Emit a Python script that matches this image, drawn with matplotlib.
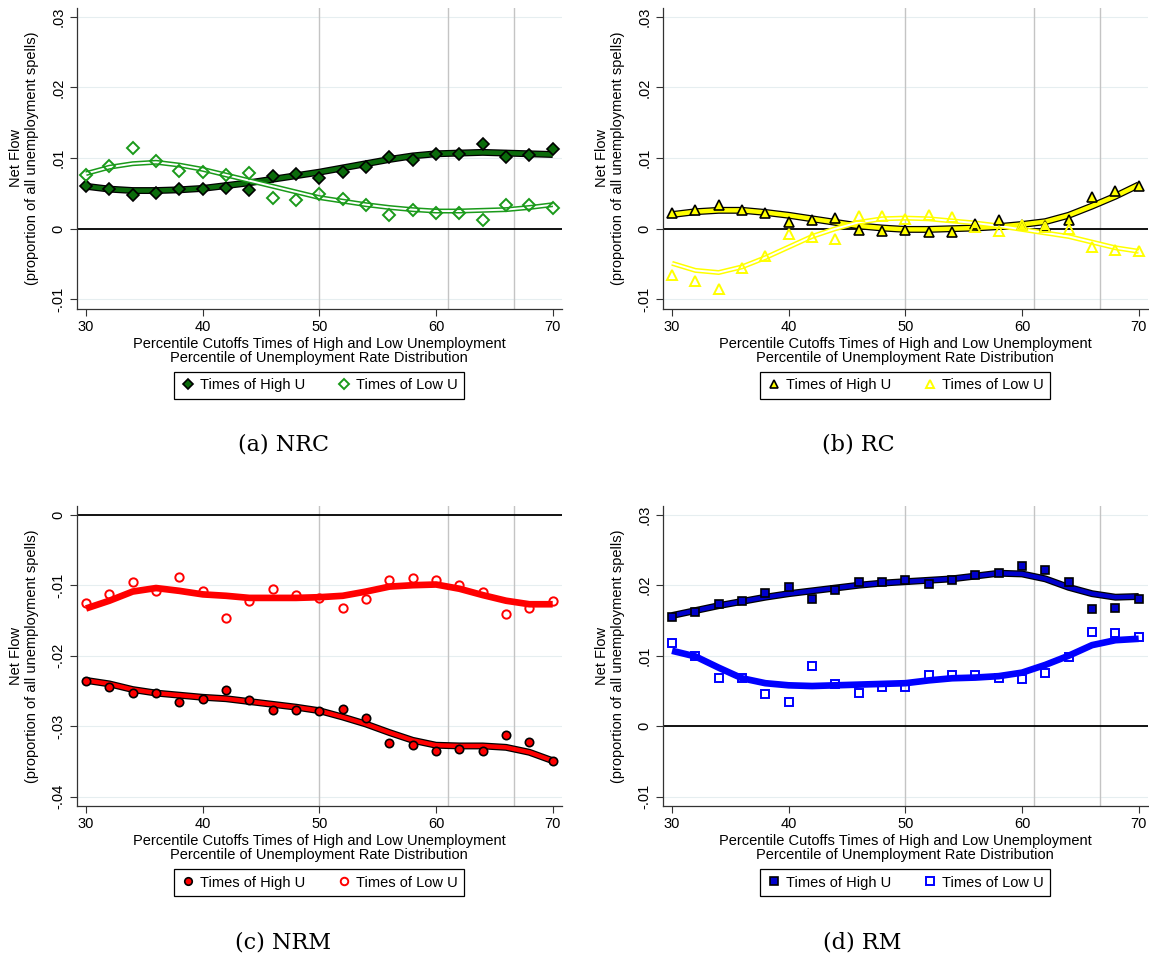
import matplotlib
matplotlib.use("Agg")
from matplotlib import pyplot as plt
import matplotlib.patheffects as pe
import numpy as np

plt.rcParams['font.family'] = ['Liberation Sans', 'DejaVu Sans']

cutoffs = np.arange(30, 71, 2)
vlines = [50, 61, 66.7]

# (a) NRC
nrc_high = [0.0060, 0.0056, 0.0047, 0.0051, 0.0056, 0.0056, 0.0057, 0.0055, 0.0075, 0.0078, 0.0072,
            0.0080, 0.0087, 0.0102, 0.0097, 0.0105, 0.0106, 0.0120, 0.0102, 0.0104, 0.0113]
nrc_low = [0.0076, 0.0089, 0.0114, 0.0096, 0.0082, 0.0080, 0.0076, 0.0079, 0.0043, 0.0041, 0.0049,
           0.0042, 0.0033, 0.0020, 0.0026, 0.0022, 0.0022, 0.0013, 0.0034, 0.0033, 0.0030]
nrc_high_fit = [0.0060, 0.0056, 0.0054, 0.0054, 0.0055, 0.0057, 0.0061, 0.0065, 0.0070, 0.0075, 0.0080,
                0.0086, 0.0092, 0.0098, 0.0103, 0.0106, 0.0107, 0.0108, 0.0107, 0.0106, 0.0105]
nrc_low_fit = [0.0078, 0.0087, 0.0092, 0.0094, 0.0090, 0.0084, 0.0076, 0.0068, 0.0060, 0.0052, 0.0044,
               0.0039, 0.0034, 0.0030, 0.0027, 0.0025, 0.0025, 0.0026, 0.0027, 0.0030, 0.0034]

# (b) RC
rc_high = [0.0022, 0.0027, 0.0033, 0.0027, 0.0022, 0.0010, 0.0013, 0.0015, -0.0002, -0.0003, -0.0002,
           -0.0005, -0.0004, 0.0006, 0.0012, 0.0005, 0.0004, 0.0012, 0.0045, 0.0053, 0.0060]
rc_low = [-0.0066, -0.0074, -0.0085, -0.0055, -0.0039, -0.0007, -0.0012, -0.0015, 0.0018, 0.0018, 0.0014,
          0.0019, 0.0016, 0.0002, -0.0003, 0.0005, 0.0003, -0.0001, -0.0026, -0.0030, -0.0031]
rc_high_fit = [0.0020, 0.0024, 0.0026, 0.0026, 0.0023, 0.0019, 0.0014, 0.0009, 0.0004, 0.0001, -0.0001,
               -0.0001, 0.0000, 0.0001, 0.0003, 0.0006, 0.0010, 0.0019, 0.0032, 0.0046, 0.0062]
rc_low_fit = [-0.0049, -0.0059, -0.0062, -0.0054, -0.0041, -0.0026, -0.0011, 0.0000, 0.0009, 0.0014, 0.0015,
              0.0014, 0.0011, 0.0008, 0.0004, -0.0001, -0.0006, -0.0011, -0.0019, -0.0027, -0.0032]

# (c) NRM
nrm_high = [-0.0236, -0.0244, -0.0253, -0.0253, -0.0266, -0.0261, -0.0249, -0.0263, -0.0277, -0.0277, -0.0278,
            -0.0275, -0.0289, -0.0324, -0.0327, -0.0335, -0.0332, -0.0335, -0.0312, -0.0323, -0.0350]
nrm_low = [-0.0125, -0.0112, -0.0095, -0.0108, -0.0088, -0.0108, -0.0147, -0.0122, -0.0106, -0.0114, -0.0118,
           -0.0132, -0.0120, -0.0092, -0.0090, -0.0093, -0.0099, -0.0109, -0.0141, -0.0133, -0.0123]
nrm_high_fit = [-0.0235, -0.0240, -0.0248, -0.0253, -0.0256, -0.0259, -0.0261, -0.0265, -0.0269, -0.0273, -0.0278,
                -0.0287, -0.0297, -0.0309, -0.0320, -0.0327, -0.0328, -0.0328, -0.0330, -0.0337, -0.0349]
nrm_low_fit = [-0.0133, -0.0122, -0.0109, -0.0104, -0.0108, -0.0113, -0.0115, -0.0118, -0.0118, -0.0118, -0.0117,
               -0.0115, -0.0109, -0.0102, -0.0100, -0.0099, -0.0105, -0.0114, -0.0122, -0.0127, -0.0127]

# (d) RM
rm_high = [0.0155, 0.0162, 0.0174, 0.0177, 0.0189, 0.0197, 0.0180, 0.0193, 0.0205, 0.0204, 0.0207,
           0.0202, 0.0207, 0.0215, 0.0218, 0.0227, 0.0221, 0.0205, 0.0166, 0.0168, 0.0180]
rm_low = [0.0118, 0.0099, 0.0068, 0.0068, 0.0046, 0.0035, 0.0085, 0.0060, 0.0047, 0.0056, 0.0056,
          0.0073, 0.0073, 0.0072, 0.0069, 0.0067, 0.0076, 0.0098, 0.0134, 0.0132, 0.0126]
rm_high_fit = [0.0157, 0.0164, 0.0171, 0.0177, 0.0183, 0.0188, 0.0192, 0.0196, 0.0200, 0.0203, 0.0205,
               0.0207, 0.0209, 0.0213, 0.0217, 0.0216, 0.0209, 0.0197, 0.0188, 0.0183, 0.0184]
rm_low_fit = [0.0107, 0.0099, 0.0083, 0.0068, 0.0061, 0.0058, 0.0057, 0.0058, 0.0059, 0.0060, 0.0061,
              0.0065, 0.0068, 0.0069, 0.0071, 0.0076, 0.0087, 0.0100, 0.0115, 0.0122, 0.0124]


def fmt_tick(v):
    if abs(v) < 1e-9:
        return "0"
    return f"{v:.2f}".replace("0.", ".")


def panel(ax, high, low, high_fit, low_fit, color, dark, marker, low_style, yticks, ylim):
    for v in vlines:
        ax.axvline(v, color='#c4c4c4', lw=1.0, zorder=1)
    for t in yticks:
        ax.axhline(t, color='#e6eef0', lw=0.8, zorder=0)
    ax.axhline(0, color='black', lw=1.3, zorder=2)

    # fitted lines
    ax.plot(cutoffs, high_fit, color=dark, lw=3.2, solid_capstyle='butt', zorder=3,
            path_effects=[pe.Stroke(linewidth=5.0, foreground='black'), pe.Normal()])
    if low_style == 'double':
        ax.plot(cutoffs, low_fit, color='white', lw=1.4, solid_capstyle='butt', zorder=3,
                path_effects=[pe.Stroke(linewidth=3.6, foreground=color), pe.Normal()])
    else:
        ax.plot(cutoffs, low_fit, color=color, lw=4.8, solid_capstyle='butt', zorder=3)

    ms = {'D': 6, 'o': 6, 's': 6, '^': 7}[marker]
    ax.plot(cutoffs, high, ls='none', marker=marker, ms=ms, mfc=dark, mec='black', mew=1.2,
            zorder=4, label='Times of High U')
    ax.plot(cutoffs, low, ls='none', marker=marker, ms=ms, mfc='none', mec=color, mew=1.4,
            zorder=4, label='Times of Low U')

    ax.set_xlim(29.2, 70.77)
    ax.set_ylim(*ylim)
    ax.set_xticks([30, 40, 50, 60, 70])
    ax.set_yticks(yticks)
    ax.set_yticklabels([fmt_tick(t) for t in yticks], rotation=90, va='center')
    ax.tick_params(labelsize=10.5, length=5, width=0.8, color='#333333', pad=3)
    for side in ('top', 'right'):
        ax.spines[side].set_visible(False)
    for side in ('left', 'bottom'):
        ax.spines[side].set_color('#333333')
        ax.spines[side].set_linewidth(0.9)
    ax.set_ylabel("Net Flow\n(proportion of all unemployment spells)", fontsize=10.5, labelpad=9)
    ax.set_xlabel("Percentile Cutoffs Times of High and Low Unemployment\n"
                  "Percentile of Unemployment Rate Distribution", fontsize=10.5, labelpad=2,
                  linespacing=1.0)
    leg = ax.legend(loc='center', bbox_to_anchor=(0.5, -0.255), ncol=2, fontsize=10.5,
                    frameon=True, fancybox=False, edgecolor='black', framealpha=1,
                    handletextpad=0.3, columnspacing=2.2, borderpad=0.45, handlelength=1.0,
                    markerscale=0.9)
    leg.get_frame().set_linewidth(0.9)


fig = plt.figure(figsize=(11.49, 9.59), dpi=100)
W, H = 1149, 959


def add(l, t, r, b):
    return fig.add_axes([l / W, 1 - b / H, (r - l) / W, (b - t) / H])


ax_a = add(76.7, 8, 561.7, 308.7)
ax_b = add(662.7, 8, 1147.7, 308.7)
ax_c = add(76.7, 505.7, 561.7, 806)
ax_d = add(662.7, 505.7, 1147.7, 806)

upper = [-0.01, 0, 0.01, 0.02, 0.03]
panel(ax_a, nrc_high, nrc_low, nrc_high_fit, nrc_low_fit, '#1a9a1a', '#0b6b0b', 'D', 'double',
      upper, (-0.01132, 0.03123))
panel(ax_b, rc_high, rc_low, rc_high_fit, rc_low_fit, '#ffff00', '#ffff00', '^', 'double',
      upper, (-0.01132, 0.03123))
panel(ax_c, nrm_high, nrm_low, nrm_high_fit, nrm_low_fit, '#ff0000', '#ff0000', 'o', 'solid',
      [-0.04, -0.03, -0.02, -0.01, 0], (-0.04132, 0.00128))
panel(ax_d, rm_high, rm_low, rm_high_fit, rm_low_fit, '#0000ff', '#0000cc', 's', 'solid',
      upper, (-0.01132, 0.03128))

cap = dict(ha='center', va='center', fontsize=16, family='DejaVu Serif')
fig.text(283 / W, 1 - 445 / H, "(a) NRC", **cap)
fig.text(858 / W, 1 - 445 / H, "(b) RC", **cap)
fig.text(283 / W, 1 - 942 / H, "(c) NRM", **cap)
fig.text(862 / W, 1 - 942 / H, "(d) RM", **cap)

fig.savefig("out.png", dpi=100)
